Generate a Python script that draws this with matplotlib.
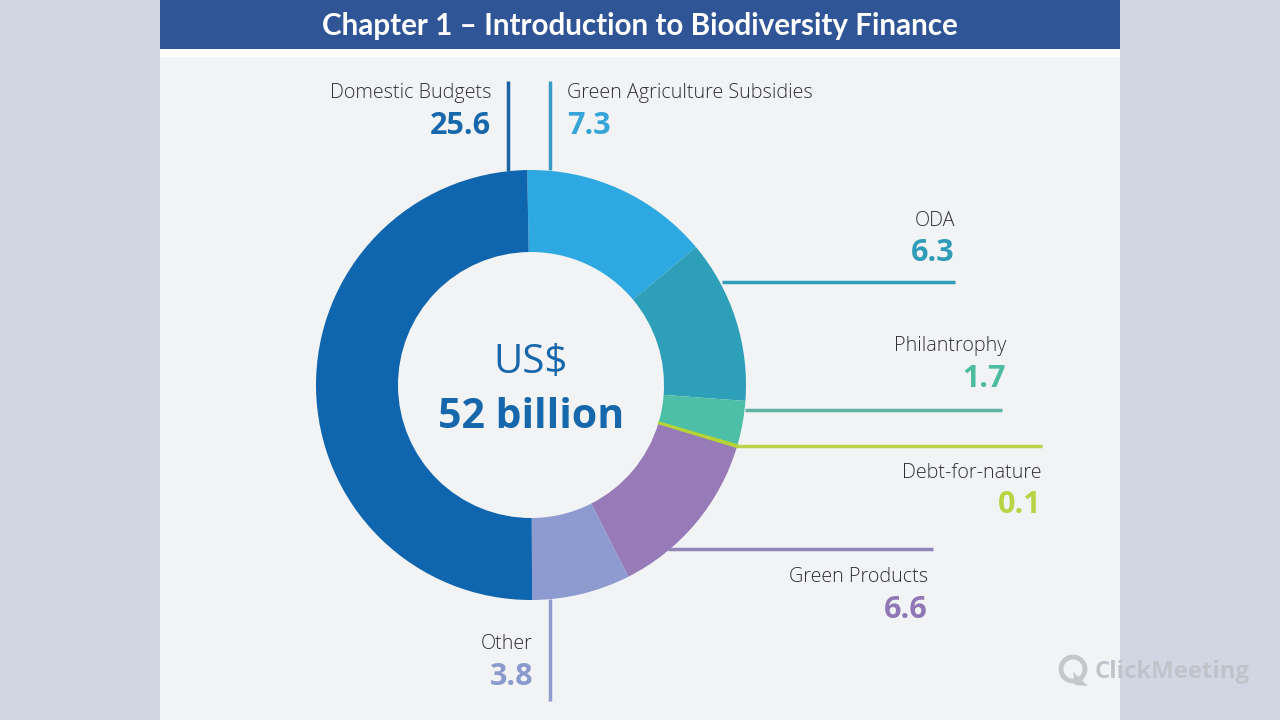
import matplotlib
matplotlib.use('Agg')
import matplotlib.pyplot as plt
from matplotlib.patches import Rectangle, Circle, Polygon

plt.rcParams['font.family'] = ['Open Sans', 'DejaVu Sans']

# clockwise from 12 o'clock
categories = ['Green Agriculture Subsidies', 'ODA', 'Philantrophy', 'Debt-for-nature',
              'Green Products', 'Other', 'Domestic Budgets']
values = [7.3, 6.3, 1.7, 0.1, 6.6, 3.8, 25.6]
colors = ['#2ea8e0', '#2e9fb8', '#4cbfa6', '#b5d334', '#967bb8', '#8e9bd0', '#0f65ae']
value_colors = ['#35a5d8', '#2f9db8', '#4cbba0', '#b9d342', '#8f78b5', '#8b9acc', '#1667ab']
line_colors = ['#3a9cc4', '#2f9db8', '#5fb3a5', '#bcd24a', '#9184b8', '#8f9bce', '#1a64a4']

title = 'Chapter 1 – Introduction to Biodiversity Finance'
center_top = 'US$'
center_bottom = '52 billion'

fig = plt.figure(figsize=(12.8, 7.2), dpi=100, facecolor='#d1d6e2')
ax = fig.add_axes([0, 0, 1, 1])
ax.set_xlim(0, 1280)
ax.set_ylim(720, 0)
ax.axis('off')

ax.add_patch(Rectangle((160, 0), 960, 720, fc='#f2f3f4', ec='none', zorder=0))
ax.add_patch(Rectangle((160, 49), 960, 8, fc='white', ec='none', zorder=1))
ax.add_patch(Rectangle((160, 0), 960, 49, fc='#2f5597', ec='none', zorder=1))
ax.text(640, 24, title, color='white', fontsize=21.3, fontweight='bold', family=['Lato', 'DejaVu Sans'],
        ha='center', va='center_baseline', zorder=3)

# y axis is flipped, so the pie runs the other way round
wedges, _ = ax.pie(values, colors=colors, startangle=-91, counterclock=True,
                   center=(531, 385), radius=215, frame=False,
                   wedgeprops=dict(width=82, edgecolor='none'))
# the 0.1 slice is nearly nothing, give it a bit of body
wedges[3].set_edgecolor(colors[3])
wedges[3].set_linewidth(1)
wedges[3].set_zorder(wedges[0].get_zorder() + 1)
ax.set_xlim(0, 1280)
ax.set_ylim(720, 0)
ax.set_aspect('auto')

# leader lines, one per category
leaders = [((550, 550), (81, 170)), ((722, 955), (282, 282)), ((745, 1002), (410, 410)),
           ((736, 1042), (446, 446)), ((668, 933), (549, 549)), ((550, 550), (599, 701)),
           ((508, 508), (81, 171))]
for (xs, ys), c in zip(leaders, line_colors):
    ax.plot(xs, ys, color=c, lw=2.5, solid_capstyle='butt', zorder=2)

# name right/left edge and baselines (name, value) in pixels
labels = [(567, 'left', 98, 134), (955, 'right', 226, 261), (1006, 'right', 351, 387),
          (1041, 'right', 478, 513), (928, 'right', 582, 618), (533, 'right', 649, 685),
          (491, 'right', 98, 134)]
for cat, val, c, (x, ha, y1, y2) in zip(categories, values, value_colors, labels):
    ax.text(x, y1, cat, color='#2f2f31', fontsize=14.25, fontweight='light', ha=ha, va='baseline', zorder=3)
    ax.text(x, y2, f'{val}', color=c, fontsize=22, fontweight='bold', ha=ha, va='baseline', zorder=3)

ax.text(531, 373, center_top, color='#1667ab', fontsize=29, ha='center', va='baseline', zorder=3)
ax.text(531, 428, center_bottom, color='#1667ab', fontsize=29.5, fontweight='bold',
        ha='center', va='baseline', zorder=3)

# watermark
ax.add_patch(Circle((1073, 669), 12, fc='none', ec='#c4c7cb', lw=3.5, zorder=3))
ax.add_patch(Polygon([(1073, 672), (1088, 686), (1075, 685)], fc='#c4c7cb', ec='none', zorder=3))
ax.text(1095, 678, 'ClickMeeting', color='#c0c3ca', fontsize=17.2, fontweight='bold',
        ha='left', va='baseline', zorder=3)

fig.savefig('out.png', dpi=100, facecolor=fig.get_facecolor())
